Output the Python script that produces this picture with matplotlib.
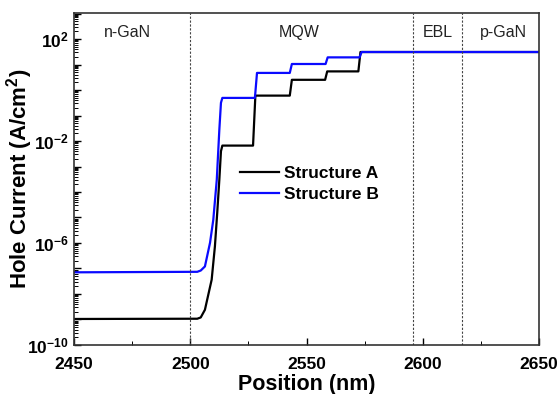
import matplotlib
matplotlib.use("Agg")
import matplotlib.pyplot as plt
from matplotlib.ticker import LogLocator, FuncFormatter, MultipleLocator
import numpy as np

plt.rcParams['font.family'] = ['Liberation Sans', 'DejaVu Sans']
plt.rcParams['mathtext.fontset'] = 'custom'
plt.rcParams['mathtext.rm'] = 'Liberation Sans'
plt.rcParams['mathtext.bf'] = 'Liberation Sans:bold'

# position (nm) and log10 of hole current (A/cm^2)
pos_a = [2450, 2503, 2504.5, 2506.3, 2509.2, 2510.6, 2511.6, 2512.5, 2513.2, 2513.8,
         2527.0, 2528.0, 2542.8, 2543.7, 2558.0, 2558.9, 2572.3, 2573.2, 2650]
log_a = [-8.98, -8.97, -8.92, -8.62, -7.44, -6.13, -4.81, -3.52, -2.4, -2.18,
         -2.18, -0.22, -0.22, 0.40, 0.40, 0.73, 0.73, 1.49, 1.49]

pos_b = [2450, 2503, 2504.5, 2506.3, 2508.5, 2509.9, 2511.4, 2512.5, 2513.2, 2513.8,
         2527.8, 2528.7, 2542.8, 2543.7, 2558.2, 2559.1, 2572.8, 2573.7, 2650]
log_b = [-7.15, -7.13, -7.08, -6.92, -5.99, -5.09, -3.52, -1.56, -0.5, -0.31,
         -0.31, 0.67, 0.67, 1.02, 1.02, 1.28, 1.28, 1.49, 1.49]

boundaries = [2500, 2595.7, 2617]
regions = ['n-GaN', 'MQW', 'EBL', 'p-GaN']
region_x = [2472.8, 2547, 2606.5, 2634.5]

fig = plt.figure(figsize=(5.57, 3.94), dpi=100)
ax = fig.add_axes([0.1329, 0.1244, 0.8348, 0.8426])

ax.plot(pos_a, 10 ** np.array(log_a), color='black', lw=1.6, label='Structure A')
ax.plot(pos_b, 10 ** np.array(log_b), color='#0a0aff', lw=1.6, label='Structure B')

for b in boundaries:
    ax.axvline(b, color='#444444', lw=0.8, ls=(0, (2, 1.5)))

for name, x in zip(regions, region_x):
    ax.text(x, 10 ** 2.25, name, ha='center', va='center', fontsize=11.5, color='#222222')

ax.set_yscale('log')
ax.set_xlim(2450, 2650)
ax.set_ylim(1e-10, 10 ** 3.02)

ax.xaxis.set_major_locator(MultipleLocator(50))
ax.xaxis.set_minor_locator(MultipleLocator(25))
ax.yaxis.set_major_locator(LogLocator(base=10, subs=(1.0,), numticks=30))
ax.yaxis.set_minor_locator(LogLocator(base=10, subs=np.arange(2, 10), numticks=30))


def ylab(v, p):
    e = int(round(np.log10(v)))
    if (e - 2) % 4 == 0:
        return r'$\mathbf{10^{%d}}$' % e
    return ''


ax.yaxis.set_major_formatter(FuncFormatter(ylab))
ax.tick_params(which='both', direction='in', top=False, right=False)
ax.tick_params(which='major', length=5, width=1, labelsize=12.5)
ax.tick_params(which='minor', length=3, width=0.7)
ax.tick_params(axis='x', which='major', pad=9)
ax.tick_params(axis='y', which='major', pad=4)
for lab in ax.get_xticklabels():
    lab.set_fontweight('bold')

for s in ax.spines.values():
    s.set_color('#333333')
    s.set_linewidth(1.2)

ax.set_xlabel('Position (nm)', fontsize=15.5, fontweight='bold', labelpad=1)
ax.set_ylabel(r'Hole Current (A/cm$^\mathbf{2}$)', fontsize=16, fontweight='bold')
ax.yaxis.set_label_coords(-0.084, 0.5)

leg = ax.legend(loc='upper left', bbox_to_anchor=(0.358, 0.539), frameon=False,
                handlelength=2.2, handletextpad=0.3, labelspacing=0.32,
                borderpad=0, borderaxespad=0, prop={'weight': 'bold', 'size': 12.5})

fig.savefig('out.png', dpi=100)
